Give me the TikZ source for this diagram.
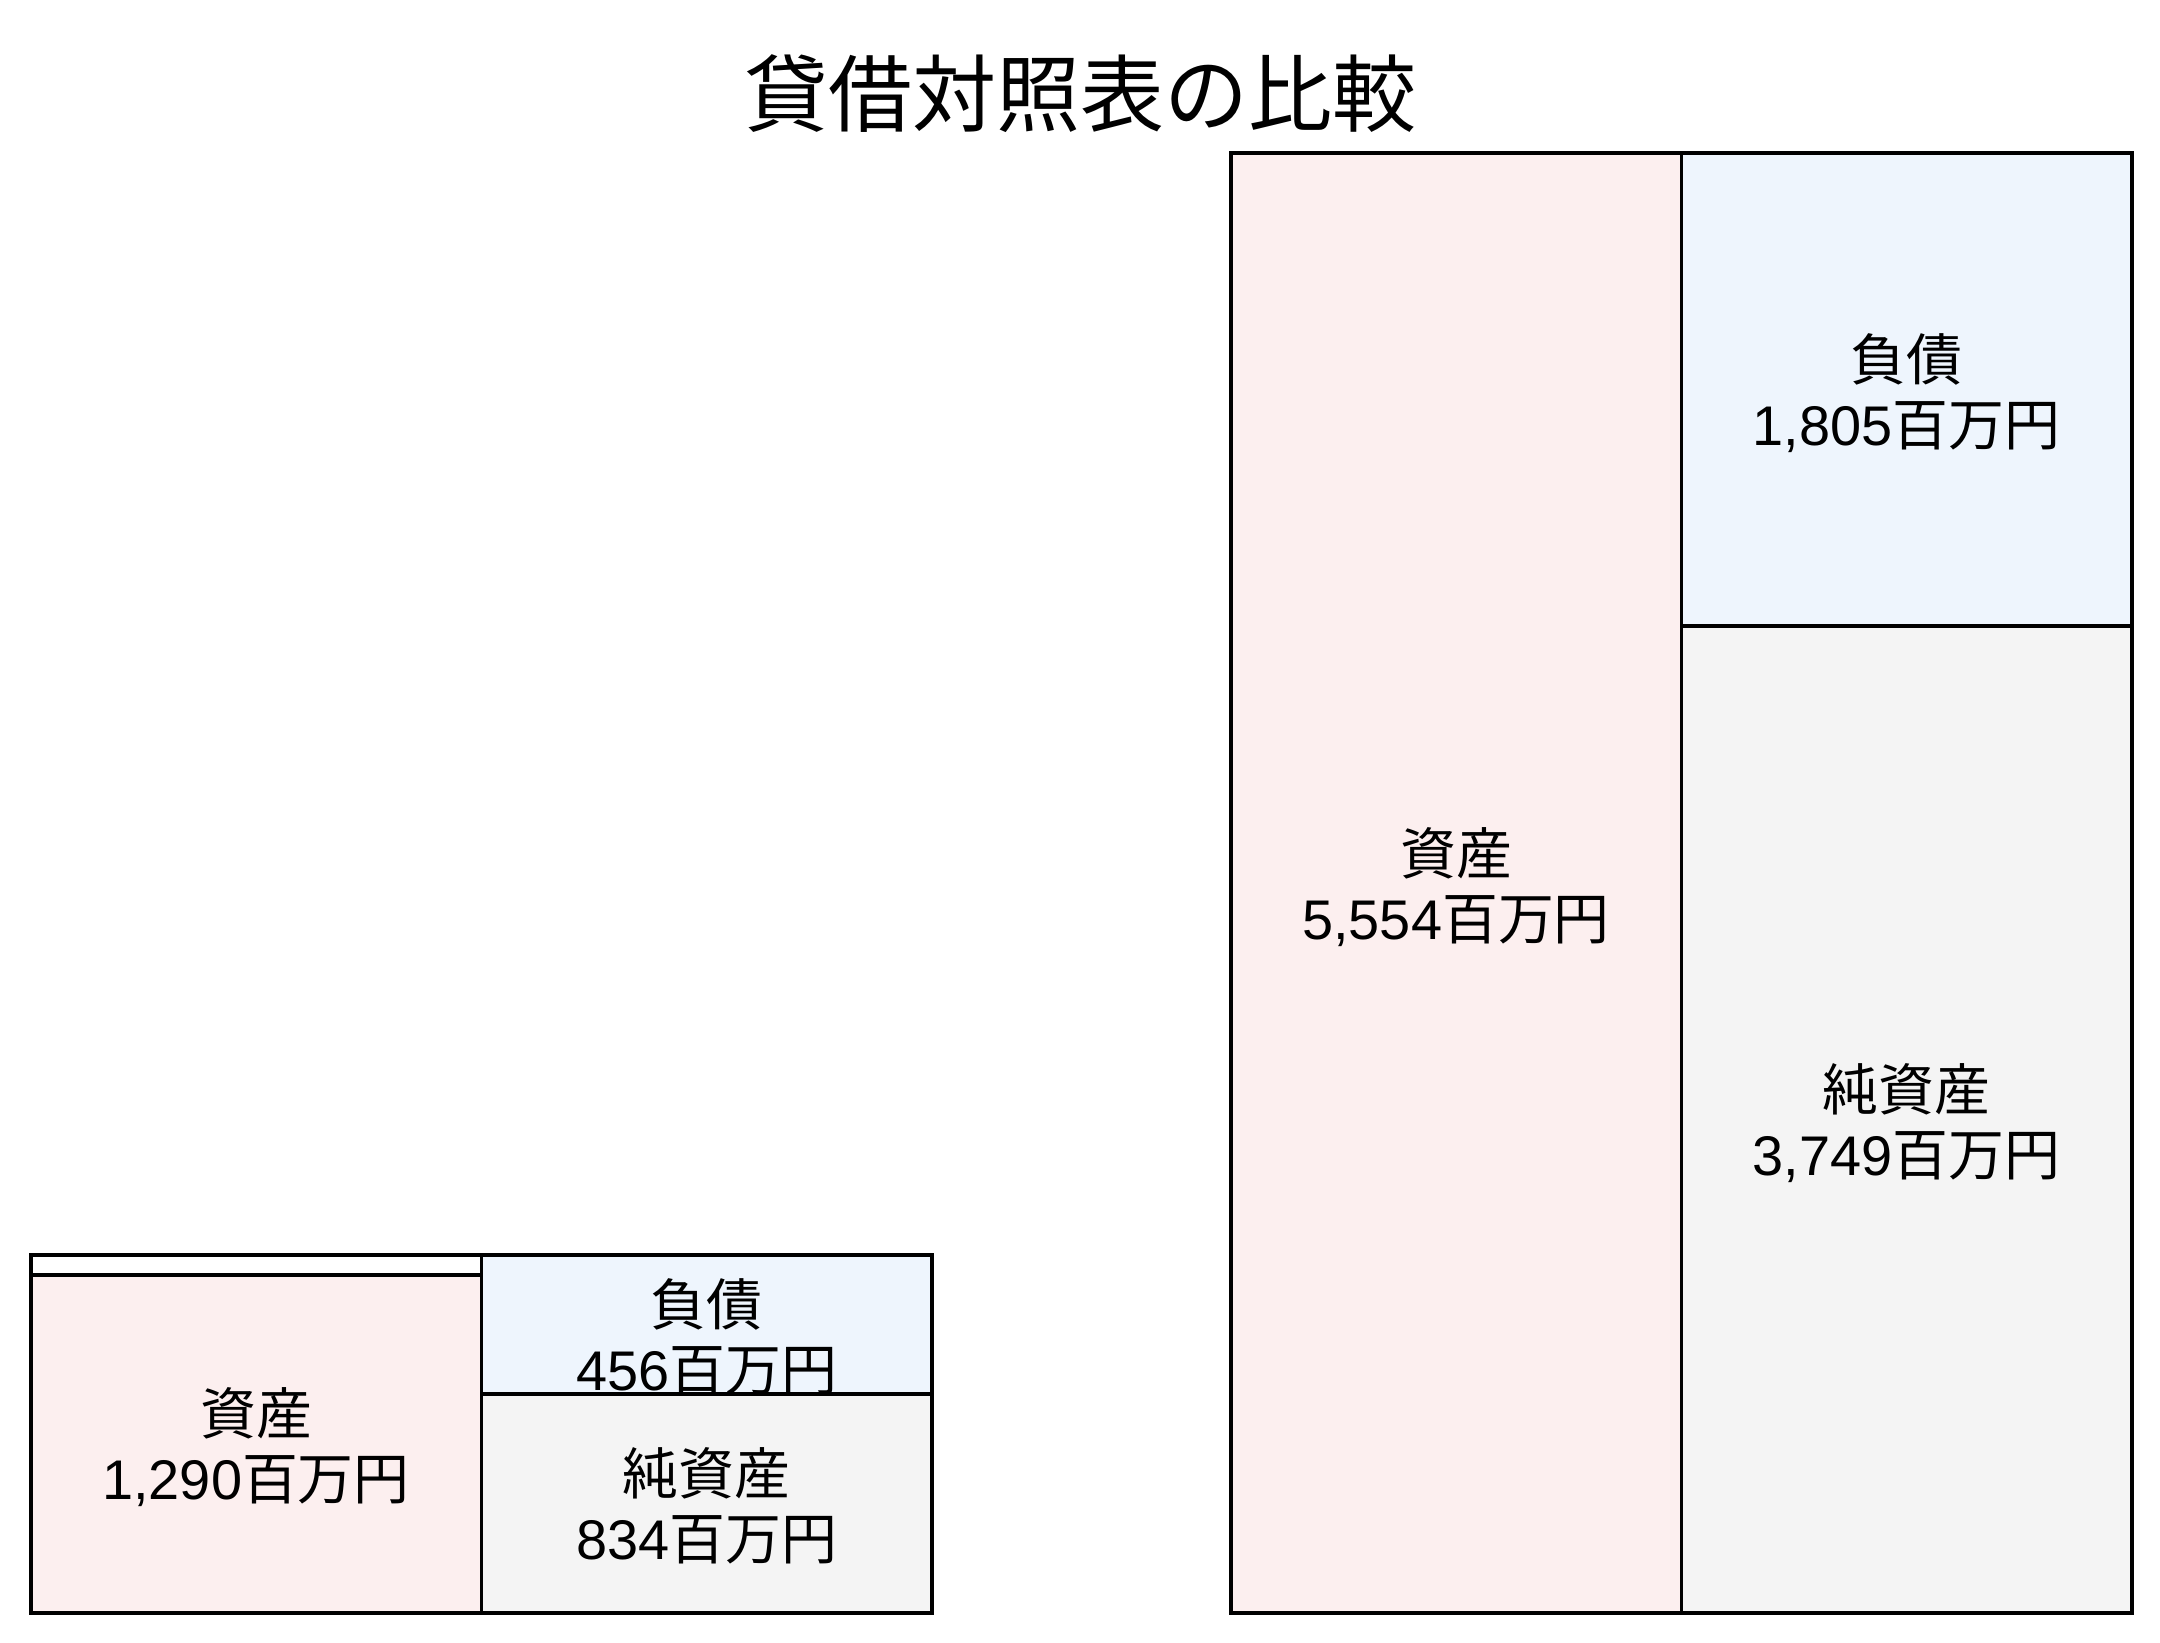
\documentclass[tikz,border=0pt]{standalone}
\usepackage{fontspec}
\setmainfont{Liberation Sans}
\newfontfamily\jp{Noto Sans CJK JP}
\usepackage{tikz}
\usetikzlibrary{positioning}
\definecolor{assetpink}{HTML}{FCEFEF}
\definecolor{debtblue}{HTML}{EEF5FD}
\definecolor{equitygray}{HTML}{F4F4F4}
\tikzstyle{box}    = [rectangle, draw=black, line width=1pt, inner sep=0pt, anchor=north west, minimum width=4.505cm]
\tikzstyle{amount} = [align=center, inner sep=0pt, font=\fontsize{15.9pt}{18.5pt}\selectfont]

\begin{document}
\begin{tikzpicture}
		\useasboundingbox (0,0) rectangle (21.6,-16.42);

		\node[font=\jp\fontsize{23.9pt}{28pt}\selectfont] (title) at (10.80,-0.935) {貸借対照表の比較};

		\node[box, fill=white, minimum height=0.20cm] (smallgap) at (0.29,-12.53) {};
		\node[box, fill=assetpink, minimum height=3.38cm] (smallasset) at (0.29,-12.73) {};
		\node[box, fill=debtblue, minimum height=1.39cm] (smalldebt) at (4.795,-12.53) {};
		\node[box, fill=equitygray, minimum height=2.19cm] (smallequity) at (4.795,-13.92) {};

		\node[box, fill=assetpink, minimum height=14.60cm] (bigasset) at (12.29,-1.51) {};
		\node[box, fill=debtblue, minimum height=4.73cm] (bigdebt) at (16.795,-1.51) {};
		\node[box, fill=equitygray, minimum height=9.87cm] (bigequity) at (16.795,-6.24) {};

		\node[amount, yshift=-0.035cm] (smallassettext) at (smallasset.center) {{\jp 資産}\\1,290{\jp 百万円}};
		\node[amount, yshift=-0.13cm] (smalldebttext) at (smalldebt.center) {{\jp 負債}\\456{\jp 百万円}};
		\node[amount, yshift=-0.03cm] (smallequitytext) at (smallequity.center) {{\jp 純資産}\\834{\jp 百万円}};
		\node[amount, yshift=-0.045cm] (bigassettext) at (bigasset.center) {{\jp 資産}\\5,554{\jp 百万円}};
		\node[amount, yshift=-0.035cm] (bigdebttext) at (bigdebt.center) {{\jp 負債}\\1,805{\jp 百万円}};
		\node[amount, yshift=-0.035cm] (bigequitytext) at (bigequity.center) {{\jp 純資産}\\3,749{\jp 百万円}};
	\end{tikzpicture}
\end{document}
